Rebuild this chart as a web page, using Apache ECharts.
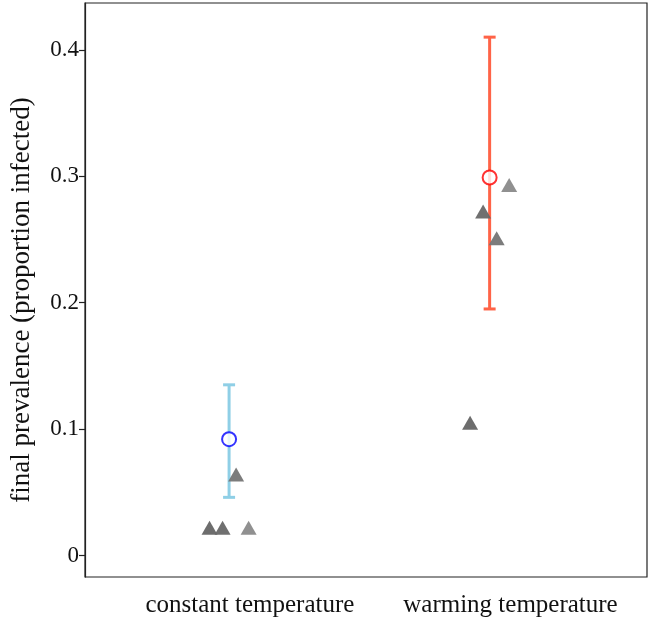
<!DOCTYPE html>
<html>
<head>
<meta charset="utf-8">
<script src="https://cdn.jsdelivr.net/npm/echarts@6/dist/echarts.min.js"></script>
<style>
html,body{margin:0;padding:0;background:#fff;}
#chart{width:650px;height:618px;}
</style>
</head>
<body>
<div id="chart"></div>
<script>
// ---- data ----
const categories = ['constant temperature', 'warming temperature'];
const meanValues = [0.092, 0.299];
const ciLower = [0.046, 0.195];
const ciUpper = [0.135, 0.410];
const meanOffset = -0.08;
const replicateGroup = [0, 0, 0, 0, 1, 1, 1, 1];
const replicateValues = [0.022, 0.022, 0.064, 0.022, 0.105, 0.272, 0.251, 0.293];
const replicateOffsets = [-0.155, -0.105, -0.053, -0.005, -0.155, -0.105, -0.053, -0.005];
const yTicks = [0, 0.1, 0.2, 0.3, 0.4];

// ---- styles ----
const replicateColors = ['#656565', '#686868', '#757575', '#8a8a8a', '#656565', '#686868', '#757575', '#8a8a8a'];
const barColors = ['#8fcfe6', '#ff6347'];
const pointColors = ['#0000ff', '#ff0000'];
const FONT = '"Liberation Serif", "DejaVu Serif", serif';

const meanData = meanValues.map((v, i) => ({
  value: [i + 1 + meanOffset, v],
  itemStyle: { color: '#fff', borderColor: pointColors[i], borderWidth: 2 }
}));
const barData = meanValues.map((v, i) => [i + 1 + meanOffset, ciLower[i], ciUpper[i], i]);
const repData = replicateValues.map((v, i) => ({
  value: [replicateGroup[i] + 1 + replicateOffsets[i], v],
  itemStyle: { color: replicateColors[i], opacity: 0.95 }
}));

const chart = echarts.init(document.getElementById('chart'), null, { renderer: 'canvas' });
chart.setOption({
  animation: false,
  backgroundColor: '#fff',
  grid: { left: 83, right: 3, top: 3, bottom: 40, show: true, borderColor: '#222', borderWidth: 1.2, backgroundColor: 'transparent' },
  xAxis: {
    type: 'value', min: 0.367, max: 2.524,
    axisLine: { show: false }, axisTick: { show: false }, splitLine: { show: false },
    axisLabel: {
      customValues: [1, 2],
      formatter: v => categories[Math.round(v) - 1] || '',
      fontFamily: FONT, fontSize: 25, color: '#111', margin: 16
    }
  },
  yAxis: {
    type: 'value', min: -0.017, max: 0.437,
    name: 'final prevalence (proportion infected)',
    nameLocation: 'middle', nameGap: 50, nameRotate: 90,
    nameTextStyle: { fontFamily: FONT, fontSize: 27, color: '#111', padding: [0, 20, 0, 0] },
    axisLine: { show: true, lineStyle: { color: '#222', width: 1.2 } },
    axisTick: { show: true, customValues: yTicks, length: 6, lineStyle: { color: '#222', width: 1.2 } },
    splitLine: { show: false },
    axisLabel: {
      customValues: yTicks,
      formatter: v => (Math.abs(v) < 1e-9 ? '0' : v.toFixed(1)),
      fontFamily: FONT, fontSize: 23, color: '#111', margin: 6
    }
  },
  series: [
    {
      type: 'custom', z: 2,
      data: barData,
      renderItem: function (params, api) {
        const x = api.value(0);
        const lo = api.coord([x, api.value(1)]);
        const hi = api.coord([x, api.value(2)]);
        const col = barColors[api.value(3)];
        const hw = 6;
        const st = { stroke: col, lineWidth: 3 };
        return {
          type: 'group',
          children: [
            { type: 'line', shape: { x1: lo[0], y1: lo[1], x2: hi[0], y2: hi[1] }, style: st },
            { type: 'line', shape: { x1: lo[0] - hw, y1: lo[1], x2: lo[0] + hw, y2: lo[1] }, style: st },
            { type: 'line', shape: { x1: hi[0] - hw, y1: hi[1], x2: hi[0] + hw, y2: hi[1] }, style: st }
          ]
        };
      }
    },
    {
      type: 'scatter', z: 3,
      symbol: 'circle', symbolSize: 14,
      data: meanData
    },
    {
      type: 'scatter', z: 4,
      symbol: 'triangle', symbolSize: [16, 14],
      data: repData
    }
  ]
});
</script>
</body>
</html>
